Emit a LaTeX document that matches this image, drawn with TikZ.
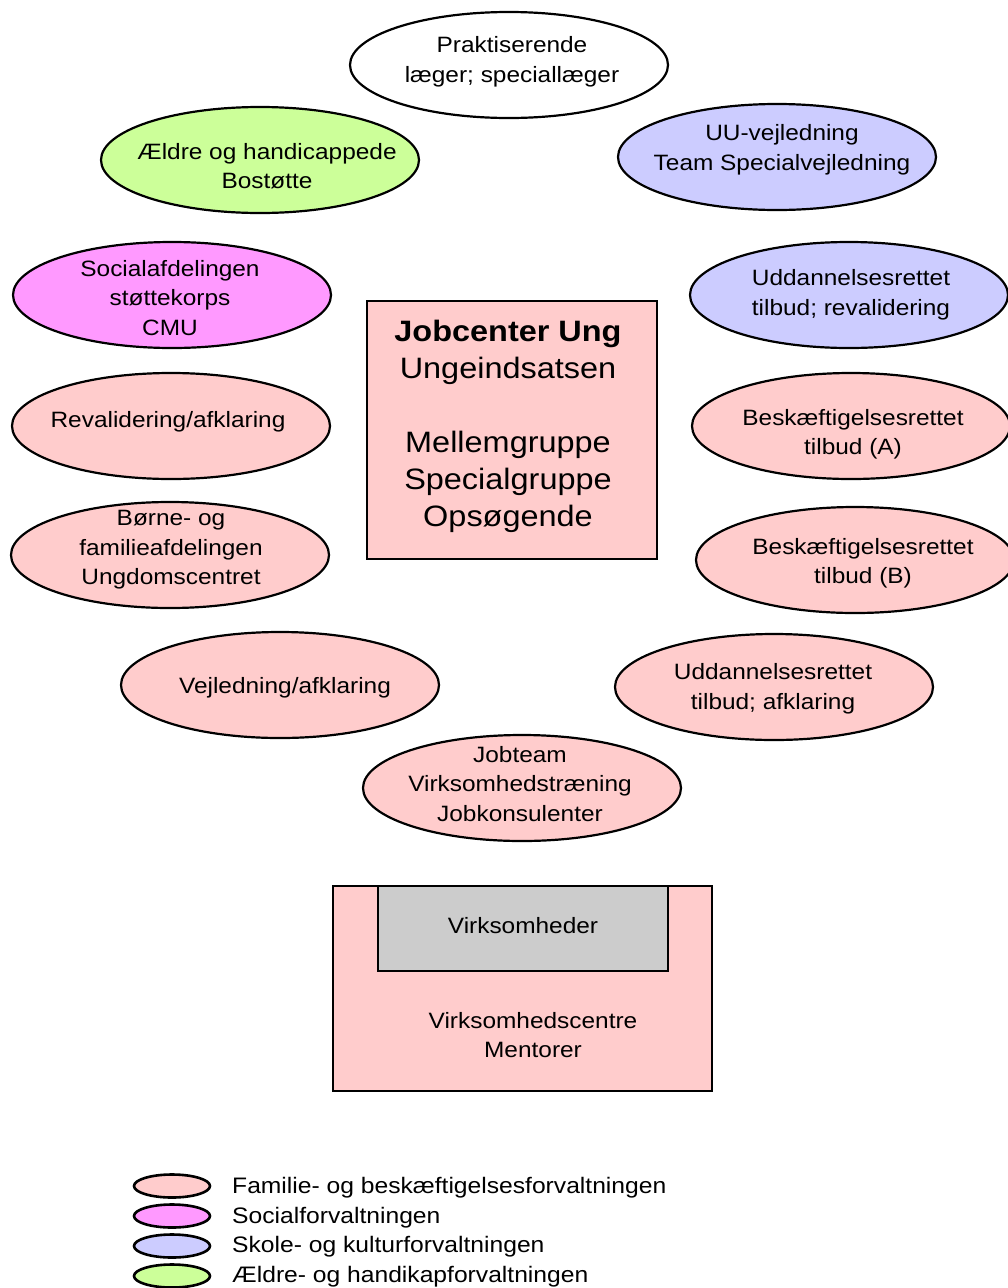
\documentclass[tikz,border=0pt]{standalone}
\usepackage{fontspec}
\setmainfont{Liberation Sans}[FakeStretch=1.1]
\usetikzlibrary{shapes.geometric}
\definecolor{fpink}{HTML}{FFCCCC}
\definecolor{fmag}{HTML}{FF99FF}
\definecolor{fblue}{HTML}{CCCCFF}
\definecolor{fgreen}{HTML}{CCFF99}
\definecolor{fgray}{HTML}{CCCCCC}
\tikzset{
  outl/.style={draw=black, line width=2.2pt},
  legoutl/.style={draw=black, line width=2.6pt},
  lbl/.style={align=center, inner sep=0pt, font=\fontsize{22.2}{29.5}\selectfont},
  boxlbl/.style={align=center, inner sep=0pt, font=\fontsize{29.5}{37}\selectfont},
  leglbl/.style={anchor=west, inner sep=0pt, font=\fontsize{22.4}{29.5}\selectfont},
}
\newcommand\myblob[4]{\path[outl, fill=#2] #3 ellipse [x radius=159, y radius=53];}
\begin{document}
\begin{tikzpicture}[x=1pt, y=-1pt]
\useasboundingbox[fill=white] (0,0) rectangle (1007,1288);

% ellipses
\myblob{a}{white}{(509,65)}{}
\node[lbl] (prak) at (512,62) {Praktiserende\\læger; speciallæger};

\myblob{a}{fgreen}{(260,160)}{}
\node[lbl] (aeldre) at (267,166) {Ældre og handicappede\\Bostøtte};

\myblob{a}{fblue}{(777,157)}{}
\node[lbl] (uu) at (782,150) {UU-vejledning\\Team Specialvejledning};

\myblob{a}{fmag}{(172,295)}{}
\node[lbl] (social) at (170,298) {Socialafdelingen\\støttekorps\\CMU};

\myblob{a}{fblue}{(849,295)}{}
\node[lbl] (uddrev) at (851,295) {Uddannelsesrettet\\tilbud; revalidering};

\myblob{a}{fpink}{(171,426)}{}
\node[lbl] (reval) at (168,422) {Revalidering/afklaring};

\myblob{a}{fpink}{(170,555)}{}
\node[lbl] (borne) at (171,550) {Børne- og\\familieafdelingen\\Ungdomscentret};

\myblob{a}{fpink}{(851,426)}{}
\node[lbl] (beskA) at (853,434) {Beskæftigelsesrettet\\tilbud (A)};

\myblob{a}{fpink}{(855,560)}{}
\node[lbl] (beskB) at (863,563) {Beskæftigelsesrettet\\tilbud (B)};

\myblob{a}{fpink}{(280,685)}{}
\node[lbl] (vejl) at (285,688) {Vejledning/afklaring};

\myblob{a}{fpink}{(774,687)}{}
\node[lbl] (uddafk) at (773,689) {Uddannelsesrettet\\tilbud; afklaring};

\myblob{a}{fpink}{(522,788)}{}
\node[lbl] (jobteam) at (520,784) {Jobteam\\Virksomhedstræning\\Jobkonsulenter};

% central box
\path[outl, fill=fpink] (367,301) rectangle (657,559);
\node[boxlbl] (jobcenter) at (508,426) {\textbf{Jobcenter Ung}\\Ungeindsatsen\\[37pt]Mellemgruppe\\Specialgruppe\\Opsøgende};

% virksomheds box
\path[outl, fill=fpink] (333,886) rectangle (712,1091);
\path[outl, fill=fgray] (378,886) rectangle (668,971);
\node[lbl] (virk) at (523,926) {Virksomheder};
\node[lbl] (virkc) at (533,1035) {Virksomhedscentre\\Mentorer};

% legend
\path[legoutl, fill=fpink] (172,1186) ellipse [x radius=38, y radius=11.5];
\node[leglbl] (leg1) at (232,1188) {Familie- og beskæftigelsesforvaltningen};
\path[legoutl, fill=fmag] (172,1216) ellipse [x radius=38, y radius=11.5];
\node[leglbl] (leg2) at (232,1218) {Socialforvaltningen};
\path[legoutl, fill=fblue] (172,1246) ellipse [x radius=38, y radius=11.5];
\node[leglbl] (leg3) at (232,1247) {Skole- og kulturforvaltningen};
\path[legoutl, fill=fgreen] (172,1276) ellipse [x radius=38, y radius=11.5];
\node[leglbl] (leg4) at (232,1277) {Ældre- og handikapforvaltningen};
\end{tikzpicture}
\end{document}
